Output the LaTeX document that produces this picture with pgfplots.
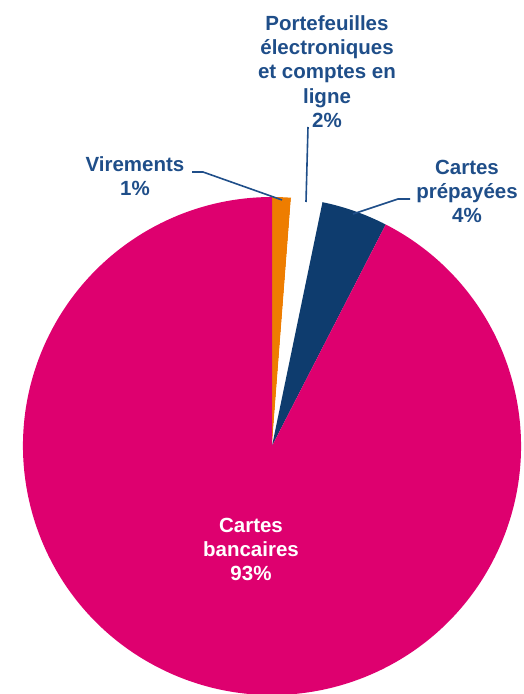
\documentclass[border=0pt]{standalone}
\usepackage{pgfplots}
\pgfplotsset{compat=1.18}
\usepackage{pgfplotstable}
\usepackage{fontspec}
\setmainfont{Liberation Sans}

\definecolor{txtblue}{HTML}{1F4E89}
\definecolor{slOrange}{HTML}{EE7D00}
\definecolor{slNavy}{HTML}{0E3C6E}
\definecolor{slMagenta}{HTML}{DE006F}

\tikzset{lbl/.style={font=\bfseries\fontsize{20.5}{24.3}\selectfont, align=center, text=txtblue, inner sep=0pt}}

% shares in percent, clockwise from 12 o'clock
\pgfplotstableread{
label share
Virements 1.22
Portefeuilles 2.03
Prepayees 4.30
Bancaires 92.45
}\piedata

\begin{document}
\begin{tikzpicture}
\pgfplotstablegetelem{0}{share}\of\piedata
\pgfmathsetmacro{\angA}{90-3.6*\pgfplotsretval}
\pgfplotstablegetelem{1}{share}\of\piedata
\pgfmathsetmacro{\angB}{\angA-3.6*\pgfplotsretval}
\pgfplotstablegetelem{2}{share}\of\piedata
\pgfmathsetmacro{\angC}{\angB-3.6*\pgfplotsretval}
\pgfplotstablegetelem{3}{share}\of\piedata
\pgfmathsetmacro{\angD}{\angC-3.6*\pgfplotsretval}
\begin{axis}[
    hide axis,
    x=1pt, y=1pt,
    xmin=0, xmax=523, ymin=0, ymax=694,
    scale only axis,
]
\path (axis cs:0,0) rectangle (axis cs:523,694);
% slices
\fill[slOrange] (axis cs:272,248) -- ++(90:249pt) arc[start angle=90, end angle=\angA, radius=249pt] -- cycle;
\fill[white] (axis cs:272,248) -- ++(\angA:249pt) arc[start angle=\angA, end angle=\angB, radius=249pt] -- cycle;
\fill[slNavy] (axis cs:272,248) -- ++(\angB:249pt) arc[start angle=\angB, end angle=\angC, radius=249pt] -- cycle;
\fill[slMagenta] (axis cs:272,248) -- ++(\angC:249pt) arc[start angle=\angC, end angle=\angD, radius=249pt] -- cycle;
% leader lines
\draw[txtblue, line width=1.6pt] (axis cs:192,522) -- (axis cs:203,522) -- (axis cs:282,494);
\draw[txtblue, line width=1.6pt] (axis cs:308,567) -- (axis cs:306,492);
\draw[txtblue, line width=1.6pt] (axis cs:410,495) -- (axis cs:398,495) -- (axis cs:353,480);
% labels
\node[lbl] at (axis cs:135,517.5) {Virements\\1\%};
\node[lbl] at (axis cs:327,622.5) {Portefeuilles\\électroniques\\et comptes en\\ligne\\2\%};
\node[lbl] at (axis cs:467,502.5) {Cartes\\prépayées\\4\%};
\node[lbl, text=white] at (axis cs:251,144.5) {Cartes\\bancaires\\93\%};
\end{axis}
\end{tikzpicture}
\end{document}
